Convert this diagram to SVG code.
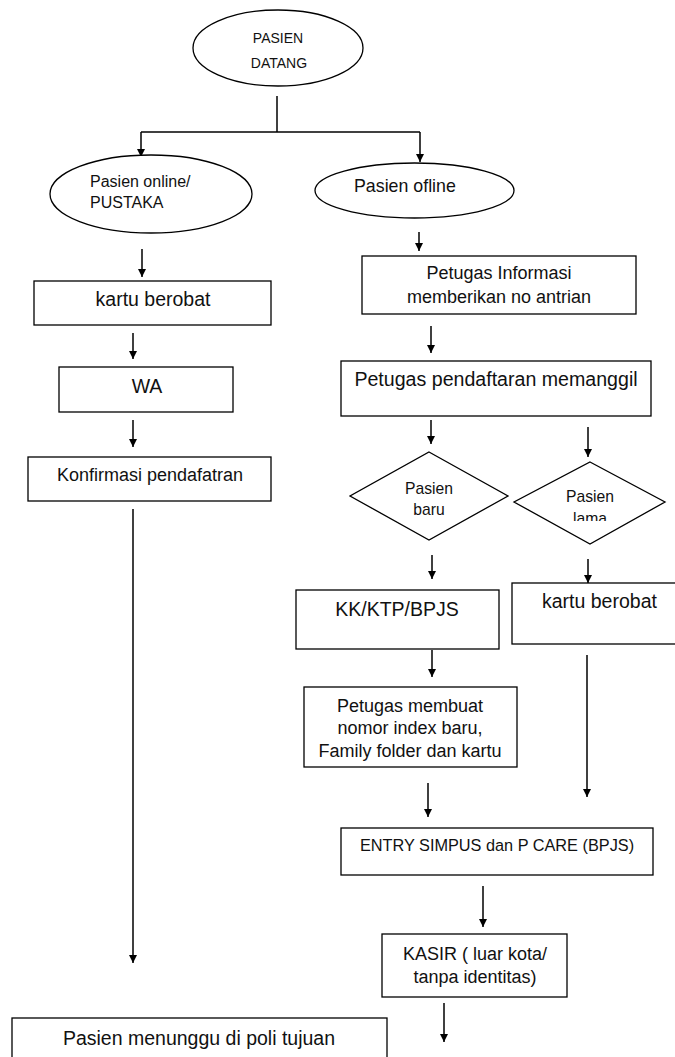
<svg xmlns="http://www.w3.org/2000/svg" width="675" height="1057" viewBox="0 0 675 1057">
<style>
.s{fill:#fff;stroke:#000;stroke-width:1.3}
.c{fill:none;stroke:#000;stroke-width:1.5}
text{font-family:"Liberation Sans",Arial,sans-serif;fill:#111}
.m{text-anchor:middle}
</style>
<defs>
<marker id="a" viewBox="0 0 10 10" refX="10" refY="5" markerWidth="8" markerHeight="8" markerUnits="userSpaceOnUse" orient="auto">
<path d="M0,0L10,5L0,10z" fill="#000"/>
</marker>
<clipPath id="lc"><rect x="500" y="440" width="175" height="81"/></clipPath>
</defs>
<rect width="675" height="1057" fill="#fff"/>
<g id="connectors">
<path class="c" d="M277,96V132"/>
<path class="c" d="M141,132H420"/>
<path class="c" d="M141,132V157" marker-end="url(#a)"/>
<path class="c" d="M420,132V162" marker-end="url(#a)"/>
<path class="c" d="M142,249V277" marker-end="url(#a)"/>
<path class="c" d="M133,333V359" marker-end="url(#a)"/>
<path class="c" d="M133,420V447" marker-end="url(#a)"/>
<path class="c" d="M133,509V963" marker-end="url(#a)"/>
<path class="c" d="M419,232V251" marker-end="url(#a)"/>
<path class="c" d="M431,326V353" marker-end="url(#a)"/>
<path class="c" d="M431,420V444" marker-end="url(#a)"/>
<path class="c" d="M588,427V457" marker-end="url(#a)"/>
<path class="c" d="M432,555V579" marker-end="url(#a)"/>
<path class="c" d="M588,559V583" marker-end="url(#a)"/>
<path class="c" d="M432,650V677" marker-end="url(#a)"/>
<path class="c" d="M587,655V797" marker-end="url(#a)"/>
<path class="c" d="M428,783V817" marker-end="url(#a)"/>
<path class="c" d="M483,886V927" marker-end="url(#a)"/>
<path class="c" d="M444,1003V1042" marker-end="url(#a)"/>
</g>
<g id="pasien-datang">
<ellipse class="s" cx="278" cy="48" rx="85" ry="38"/>
<text class="m" x="278" y="43" font-size="14">PASIEN</text>
<text class="m" x="279" y="68" font-size="14">DATANG</text>
</g>
<g id="pasien-online">
<ellipse class="s" cx="151" cy="194" rx="101" ry="39"/>
<text x="90" y="187" font-size="16">Pasien online/</text>
<text x="90" y="208" font-size="16">PUSTAKA</text>
</g>
<g id="pasien-ofline">
<ellipse class="s" cx="414.5" cy="190.5" rx="99.5" ry="27.5"/>
<text x="354" y="192" font-size="17.8">Pasien ofline</text>
</g>
<g id="kartu-berobat-online">
<rect class="s" x="34" y="281" width="237" height="44"/>
<text class="m" x="153" y="306" font-size="19.5">kartu berobat</text>
</g>
<g id="wa">
<rect class="s" x="59" y="367" width="174" height="45"/>
<text class="m" x="147" y="393" font-size="19.5">WA</text>
</g>
<g id="konfirmasi">
<rect class="s" x="28" y="457" width="243" height="44"/>
<text class="m" x="150" y="481" font-size="18">Konfirmasi pendafatran</text>
</g>
<g id="petugas-informasi">
<rect class="s" x="362" y="256" width="274" height="58"/>
<text class="m" x="499" y="279" font-size="18">Petugas Informasi</text>
<text class="m" x="499" y="303" font-size="18">memberikan no antrian</text>
</g>
<g id="petugas-pendaftaran">
<rect class="s" x="341" y="361" width="310" height="55"/>
<text class="m" x="496" y="386" font-size="19.6">Petugas pendaftaran memanggil</text>
</g>
<g id="pasien-baru">
<path class="s" d="M429,452L508,496L429,540L350,496Z"/>
<text class="m" x="429" y="494" font-size="15.7">Pasien</text>
<text class="m" x="429" y="515" font-size="15.7">baru</text>
</g>
<g id="pasien-lama">
<path class="s" d="M590,462L665,502L590,544L514,502Z"/>
<text class="m" x="590" y="502" font-size="15.7">Pasien</text>
<text class="m" x="590" y="524" font-size="15.7" clip-path="url(#lc)">lama</text>
</g>
<g id="kk-ktp-bpjs">
<rect class="s" x="296" y="590" width="203" height="59"/>
<text class="m" x="397" y="616" font-size="19.5">KK/KTP/BPJS</text>
</g>
<g id="kartu-berobat-lama">
<rect class="s" x="512" y="583" width="175" height="61"/>
<text x="542" y="608" font-size="19.5">kartu berobat</text>
</g>
<g id="petugas-membuat">
<rect class="s" x="304" y="687" width="213" height="80"/>
<text class="m" x="410" y="712" font-size="18">Petugas membuat</text>
<text class="m" x="410" y="734" font-size="18">nomor index baru,</text>
<text class="m" x="410" y="757" font-size="18">Family folder dan kartu</text>
</g>
<g id="entry-simpus">
<rect class="s" x="341" y="828" width="312" height="47"/>
<text class="m" x="497" y="851" font-size="16.3">ENTRY SIMPUS dan P CARE (BPJS)</text>
</g>
<g id="kasir">
<rect class="s" x="382" y="934" width="185" height="63"/>
<text class="m" x="475" y="960" font-size="18">KASIR ( luar kota/</text>
<text class="m" x="475" y="983" font-size="18">tanpa identitas)</text>
</g>
<g id="pasien-menunggu">
<rect class="s" x="12" y="1018" width="375" height="50"/>
<text class="m" x="199" y="1045" font-size="19.5">Pasien menunggu di poli tujuan</text>
</g>
</svg>
